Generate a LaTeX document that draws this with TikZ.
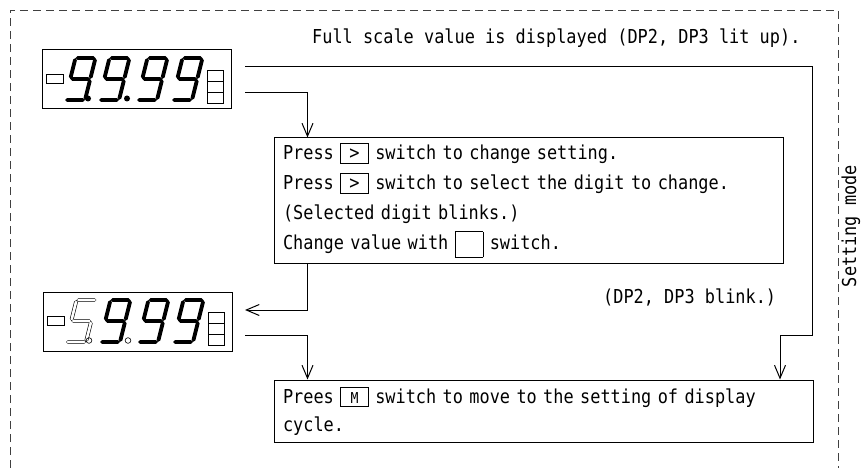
\documentclass[tikz,border=0pt]{standalone}
\usepackage{fontspec}
\newfontfamily\panelfont[FakeStretch=0.88]{DejaVu Sans Mono}
\usepackage{tikz}
\usetikzlibrary{positioning, arrows.meta}

\newcommand{\keybox}[1]{{\fboxsep=0pt\fboxrule=0.8pt\fbox{\makebox[27pt]{\rule[-3pt]{0pt}{19pt}#1}}}}
\newcommand{\blankkey}{{\fboxsep=0pt\fboxrule=0.8pt\fbox{\makebox[27pt]{\rule[-7pt]{0pt}{25pt}}}}}

\tikzset{
  panel/.style={draw, line width=1pt, minimum width=189pt, minimum height=59pt, inner sep=0pt},
  stepbox/.style={draw, line width=1pt, align=left, inner xsep=9pt, inner ysep=0pt,
    font=\panelfont\fontsize{19.2pt}{30pt}\selectfont},
  note/.style={inner sep=0pt, font=\panelfont\fontsize{19.2pt}{23pt}\selectfont},
  flow/.style={line width=1pt, -{Straight Barb[length=13pt, width=11pt]}},
  seg/.style={line width=3.8pt, line cap=round},
  hollowseg/.style={line width=0.6pt, double, double distance=2.6pt, line cap=round},
  nine/.pic={\draw[seg] (2,-42) -- (18,-42) (20,-40) -- (20,-23) (20,-19) -- (20,-2)
    (2,0) -- (18,0) (0,-23) -- (0,-40) (2,-21) -- (18,-21);},
  five/.pic={\draw[hollowseg] (2,-42) -- (18,-42) (0,-40) -- (0,-23) (2,-21) -- (18,-21)
    (20,-19) -- (20,-2) (2,0) -- (18,0);}
}

\begin{document}
\begin{tikzpicture}[x=1pt, y=-1pt]
  \useasboundingbox (0,0) rectangle (862,468);

  % Rahmen
  \draw[dash pattern=on 8pt off 5pt, line width=0.8pt, black!75] (10,468) |- (838,10) -- (838,468);
  \node[note, rotate=90] (mode) at (851,226) {Setting mode};

  % Anzeigen
  \node[panel] (disp1) at (137,79.5) {};
  \node[panel] (disp2) at (138,321.5) {};
  \foreach \d in {disp1,disp2} {
    \draw[line width=0.8pt] ([shift={(-91,-5.5)}]\d.center) rectangle ++(17,9);
    \foreach \k in {0,1,2}
      \draw[line width=0.8pt] ([shift={(70,-9.5+11*\k)}]\d.center) rectangle ++(16,11);
  }
  \foreach \dx in {-72,-38,0,35}
    \pic[xslant=0.25] at ([shift={(\dx,20.5)}]disp1.center) {nine};
  \foreach \dx in {-38,0,35}
    \pic[xslant=0.25] at ([shift={(\dx,20.5)}]disp2.center) {nine};
  \pic[xslant=0.25] at ([shift={(-72,20.5)}]disp2.center) {five};
  \foreach \dx in {-49,-10}
    \fill ([shift={(\dx,19)}]disp1.center) circle (3pt);
  \foreach \dx in {-49,-10}
    \draw[line width=0.6pt] ([shift={(\dx,19)}]disp2.center) circle (2.8pt);

  % Texte
  \node[note, anchor=west] (title) at (312,38) {Full scale value is displayed (DP2, DP3 lit up).};
  \node[stepbox, text width=491pt, minimum height=125pt] (setbox) at (528.5,200.5)
    {Press \keybox{>} switch to change setting.\\
     Press \keybox{>} switch to select the digit to change.\\
     (Selected digit blinks.)\\
     Change value with \blankkey{} switch.};
  \node[note, anchor=west] (blink) at (603,297) {(DP2, DP3 blink.)};
  \node[stepbox, text width=521pt, minimum height=62pt,
    font=\panelfont\fontsize{19.2pt}{28pt}\selectfont] (confirm) at (543.5,411)
    {Prees \keybox{\fontsize{15pt}{15pt}\selectfont M} switch to move to the setting of display\\
     cycle.};

  % Verbindungen
  \coordinate (out1) at (245,67);
  \coordinate (out2) at (245,93);
  \coordinate (in2) at (245,310);
  \coordinate (out3) at (245,335);
  \coordinate (bendR) at (812,335);
  \coordinate (bendL) at (780,335);
  \draw[flow] (out1) -| (bendR) -- (bendL) -- (bendL |- confirm.north);
  \draw[flow] (out2) -| ([xshift=34pt]setbox.north west);
  \draw[flow] ([xshift=34pt]setbox.south west) |- (in2);
  \draw[flow] (out3) -| ([xshift=34pt]confirm.north west);
\end{tikzpicture}
\end{document}
